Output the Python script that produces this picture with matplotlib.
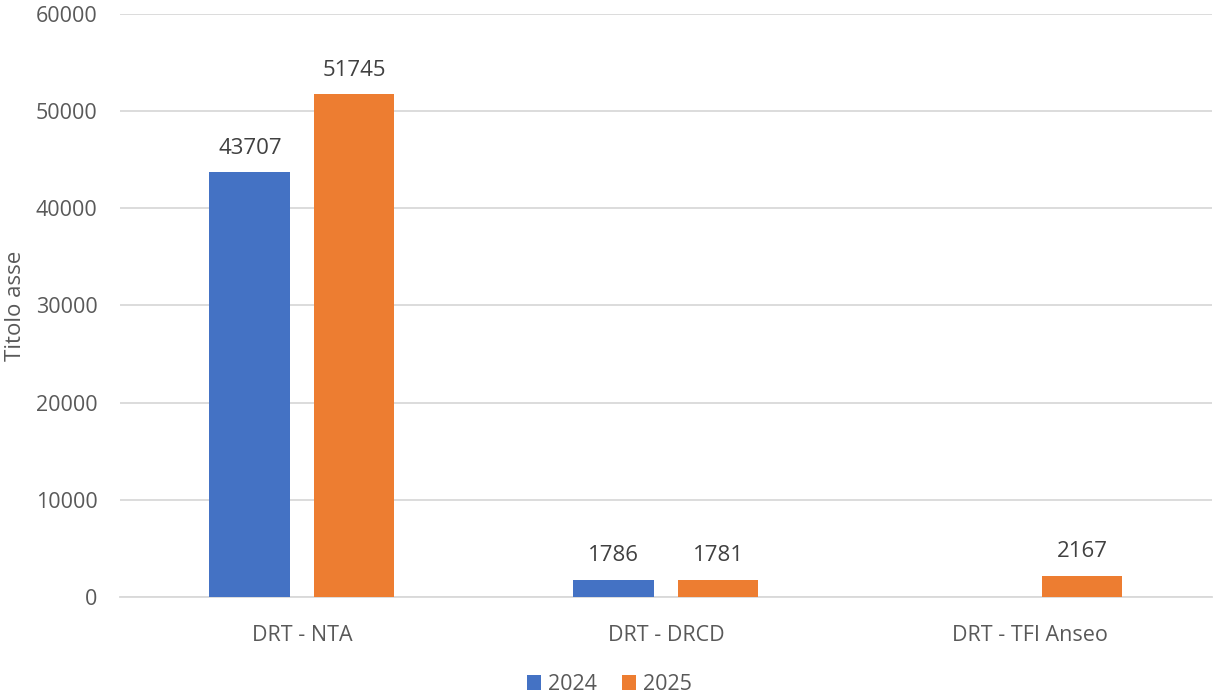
import matplotlib
matplotlib.use("Agg")
import matplotlib.pyplot as plt
import numpy as np

categories = ["DRT - NTA", "DRT - DRCD", "DRT - TFI Anseo"]
v2024 = [43707, 1786, None]
v2025 = [51745, 1781, 2167]
series_names = ["2024", "2025"]
colors = ["#4472C4", "#ED7D31"]

plt.rcParams['font.family'] = ['Open Sans', 'DejaVu Sans']
txt = "#595959"

fig = plt.figure(figsize=(12.14, 6.95), dpi=100)
ax = fig.add_axes([0.0988, 0.141, 0.8995, 0.839])

x = np.arange(len(categories))
w = 0.222
off = 0.143
for vals, name, c, sgn in [(v2024, series_names[0], colors[0], -1), (v2025, series_names[1], colors[1], 1)]:
    xs = [xi + sgn*off for xi, v in zip(x, vals) if v is not None]
    ys = [v for v in vals if v is not None]
    bars = ax.bar(xs, ys, width=w, color=c, label=name, zorder=3)
    for b, v in zip(bars, ys):
        ax.text(b.get_x() + b.get_width()/2, v + 1400, str(v), ha="center", va="bottom",
                fontsize=16, color="#404040")

ax.set_ylim(0, 60000)
ax.set_xlim(-0.5, 2.5)
ax.set_yticks(range(0, 60001, 10000))
ax.set_xticks(x)
ax.set_xticklabels(categories)
ax.tick_params(axis="both", length=0, labelsize=15.5, colors=txt)
ax.tick_params(axis="x", pad=20)
ax.tick_params(axis="y", pad=16)
ax.grid(axis="y", color="#D9D9D9", linewidth=1.3, zorder=0)
for s in ["top", "right", "left"]:
    ax.spines[s].set_visible(False)
ax.spines["bottom"].set_color("#D9D9D9")
ax.spines["bottom"].set_linewidth(1.3)
ax.set_ylabel("Titolo asse", fontsize=16, color=txt)
ax.yaxis.set_label_coords(-0.086, 0.5)

fig.legend(loc="center", bbox_to_anchor=(0.502, 0.015), ncol=2, frameon=False,
           fontsize=15.5, handlelength=0.65, handleheight=0.65, handletextpad=0.3,
           columnspacing=1.2, labelcolor=txt)

fig.savefig("out.png", dpi=100)
